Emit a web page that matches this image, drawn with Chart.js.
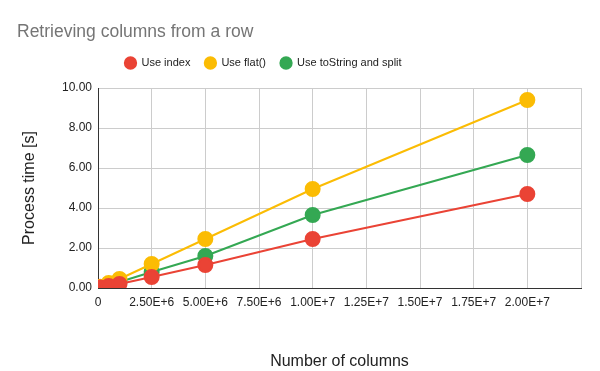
<!DOCTYPE html>
<html>
<head>
<meta charset="utf-8">
<script src="https://cdn.jsdelivr.net/npm/chart.js@4"></script>
<style>
  html, body { margin: 0; padding: 0; background: #fff; }
  canvas { display: block; }
</style>
</head>
<body>
<canvas id="chart" width="600" height="371"></canvas>
<script>
const columns = [1e5, 5e5, 1e6, 2.5e6, 5e6, 1e7, 2e7];
const useIndex = [0.03, 0.1, 0.2, 0.55, 1.15, 2.45, 4.7];
const useFlat = [0.06, 0.25, 0.45, 1.2, 2.45, 4.95, 9.4];
const useSplit = [0.05, 0.15, 0.3, 0.8, 1.6, 3.65, 6.65];
const seriesNames = ['Use index', 'Use flat()', 'Use toString and split'];
const colors = ['#ea4335', '#fbbc04', '#34a853'];

const FONT = 'Liberation Sans, Arial, sans-serif';

function pts(values) {
  return columns.map((x, i) => ({ x: x, y: values[i] }));
}

// keep legend/title where the reference has them
const placeBoxes = {
  id: 'placeBoxes',
  beforeInit(chart) {
    const fit = chart.legend.fit;
    chart.legend.fit = function () {
      fit.call(this);
      this.height = 45;
    };
  },
  afterLayout(chart) {
    chart.legend.left = 125 - 14.5;
    chart.legend.top = 43;
    chart.titleBlock.left = 17;
  }
};

const ctx = document.getElementById('chart').getContext('2d');

new Chart(ctx, {
  type: 'line',
  data: {
    datasets: [useIndex, useFlat, useSplit].map((vals, i) => ({
      label: seriesNames[i],
      data: pts(vals),
      borderColor: colors[i],
      backgroundColor: colors[i],
      pointBackgroundColor: colors[i],
      pointBorderColor: colors[i],
      pointRadius: 7,
      pointHoverRadius: 7,
      borderWidth: 2,
      tension: 0,
      fill: false
    }))
  },
  options: {
    responsive: false,
    animation: false,
    layout: {
      padding: { left: 20, right: 19, top: 0, bottom: 0 }
    },
    plugins: {
      title: {
        display: true,
        text: 'Retrieving columns from a row',
        align: 'start',
        color: '#757575',
        font: { family: FONT, size: 17.5, weight: 'normal' },
        padding: { top: 22, bottom: 0 }
      },
      legend: {
        display: true,
        align: 'start',
        labels: {
          usePointStyle: true,
          pointStyle: 'circle',
          boxWidth: 11,
          boxHeight: 8,
          color: '#222',
          padding: 14.5,
          font: { family: FONT, size: 11 }
        }
      },
      tooltip: { enabled: false }
    },
    scales: {
      x: {
        type: 'linear',
        min: 0,
        max: 2.25e7,
        border: { display: true, color: '#333', width: 1 },
        grid: { color: '#cccccc', drawTicks: false },
        ticks: {
          stepSize: 2.5e6,
          color: '#222',
          padding: 7,
          maxRotation: 0,
          autoSkip: false,
          font: { family: FONT, size: 12 },
          callback: function (v) {
            if (v === 0) return '0';
            if (v > 2e7) return '';
            return v.toExponential(2).toUpperCase();
          }
        },
        title: {
          display: true,
          text: 'Number of columns',
          color: '#222',
          font: { family: FONT, size: 16 },
          padding: { top: 20, bottom: 0 }
        },
        afterFit: function (scale) { scale.height = 83; }
      },
      y: {
        min: 0,
        max: 10,
        border: { display: true, color: '#333', width: 1 },
        grid: { color: '#cccccc', drawTicks: false },
        ticks: {
          stepSize: 2,
          color: '#222',
          padding: 6,
          font: { family: FONT, size: 12 },
          callback: function (v) { return v.toFixed(2); }
        },
        title: {
          display: true,
          text: 'Process time [s]',
          color: '#222',
          font: { family: FONT, size: 16 },
          padding: { top: 0, bottom: 12 }
        },
        afterFit: function (scale) { scale.width = 78; }
      }
    }
  },
  plugins: [placeBoxes]
});
</script>
</body>
</html>
